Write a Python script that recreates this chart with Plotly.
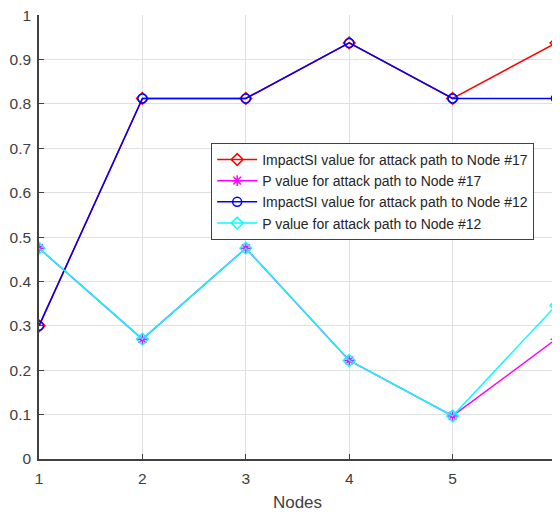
import plotly.graph_objects as go

nodes = [1, 2, 3, 4, 5, 6]
impact_17 = [0.3, 0.8125, 0.8125, 0.9375, 0.8125, 0.9375]
p_17 = [0.475, 0.27, 0.475, 0.222, 0.097, 0.27]
impact_12 = [0.3, 0.8125, 0.8125, 0.9375, 0.8125, 0.8125]
p_12 = [0.475, 0.27, 0.475, 0.222, 0.097, 0.346]

names = [
    "ImpactSI value for attack path to Node #17",
    "P value for attack path to Node #17",
    "ImpactSI value for attack path to Node #12",
    "P value for attack path to Node #12",
]
series = [impact_17, p_17, impact_12, p_12]
colors = ["#ff0000", "#ff00ff", "#0000ff", "#00ffff"]
symbols = ["diamond-open", "asterisk-open", "circle-open", "diamond-open"]
sizes = [9, 9, 9, 9]

FONT = "Liberation Sans, Arial, sans-serif"

fig = go.Figure()
for name, ys, c, s, sz in zip(names, series, colors, symbols, sizes):
    fig.add_trace(go.Scatter(
        x=nodes, y=ys, name=name, mode="lines+markers",
        line=dict(color=c, width=1.5),
        marker=dict(symbol=s, size=sz, color=c, line=dict(color=c, width=1.5)),
    ))

axis_common = dict(
    showgrid=True, gridcolor="#e0e0e0", gridwidth=1,
    showline=True, linecolor="#404040", linewidth=1.5,
    ticks="inside", ticklen=5, tickcolor="#404040",
    tickfont=dict(family=FONT, size=15.5, color="#404040"),
    zeroline=False, mirror=False, automargin=False,
    ticklabeloverflow="allow",
)

# page body has an 8px margin, so the figure is sized to fit the window
fig.update_layout(
    width=552, height=504,
    margin=dict(l=31, r=4, t=7, b=53),
    paper_bgcolor="white", plot_bgcolor="white",
    font=dict(family=FONT, color="#404040"),
    xaxis=dict(range=[1, 6], tickmode="linear", tick0=1, dtick=1, ticklabelstandoff=5,
               title=dict(text="Nodes", font=dict(size=17), standoff=12), **axis_common),
    yaxis=dict(range=[0, 1.0005], dtick=0.1, tickformat="~g", ticklabelstandoff=3, **axis_common),
    legend=dict(
        x=0.333, y=0.712, xanchor="left", yanchor="top",
        bgcolor="white", bordercolor="#404040", borderwidth=1,
        font=dict(size=14, color="#262626"),
        tracegroupgap=0, itemwidth=40,
    ),
    showlegend=True,
)

fig.write_html("out.html")
